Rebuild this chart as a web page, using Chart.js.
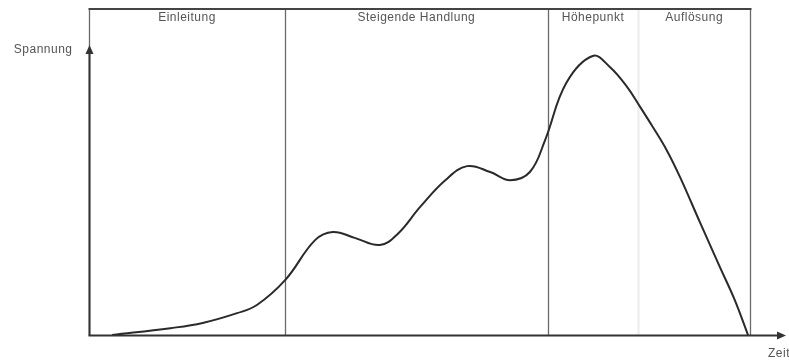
<!DOCTYPE html>
<html>
<head>
<meta charset="utf-8">
<script src="https://cdn.jsdelivr.net/npm/chart.js@4"></script>
<style>
html,body{margin:0;padding:0;background:#fff;}
#wrap{width:789px;height:361px;position:relative;}
</style>
</head>
<body>
<div id="wrap"><canvas id="c" width="789" height="361"></canvas></div>
<script>
// Time (0..100) and tension (0..100)
const timeValues    = [3.5, 12.3, 17.2, 22.4, 25.4, 29.7, 34.2, 36.9, 40.2, 44.0, 46.7, 50.1, 53.9, 57.2, 60.7, 63.7, 66.7, 69.0, 72.2, 76.2, 78.8, 81.4, 83.4, 85.3, 87.4, 89.4, 92.4, 95.5, 97.7, 99.7];
const tensionValues = [0.0, 2.1, 3.7, 6.7, 9.2, 16.9, 29.1, 31.6, 29.8, 27.6, 31.0, 39.3, 47.5, 51.8, 50.0, 47.5, 50.0, 59.8, 77.3, 85.6, 82.2, 76.1, 69.9, 63.8, 56.7, 48.5, 34.7, 20.6, 10.7, 0.0];
const sectionBounds = [0, 29.65, 69.4, 83.1, 100];
const sectionLabels = ["Einleitung", "Steigende Handlung", "Höhepunkt", "Auflösung"];
const yAxisTitle = "Spannung";
const xAxisTitle = "Zeit";

const points = timeValues.map((x, i) => ({x: x, y: tensionValues[i]}));
const FONT = '12px "Liberation Sans", Arial, sans-serif';

const decor = {
  id: 'decor',
  beforeDatasetsDraw(chart) {
    const {ctx, chartArea: a, scales: {x, y}} = chart;
    ctx.save();
    for (let i = 1; i < sectionBounds.length - 1; i++) {
      const px = Math.round(x.getPixelForValue(sectionBounds[i])) + 0.5;
      ctx.beginPath();
      ctx.strokeStyle = i === 3 ? '#ececec' : '#6a6a6a';
      ctx.lineWidth = i === 3 ? 2 : 1.3;
      ctx.moveTo(px, a.top); ctx.lineTo(px, a.bottom);
      ctx.stroke();
    }
    const rx = Math.round(x.getPixelForValue(sectionBounds[sectionBounds.length - 1])) + 0.5;
    ctx.beginPath(); ctx.strokeStyle = '#6a6a6a'; ctx.lineWidth = 1.3;
    ctx.moveTo(rx, a.top); ctx.lineTo(rx, a.bottom); ctx.stroke();
    const lx = Math.round(x.getPixelForValue(0)) + 0.5;
    ctx.beginPath(); ctx.moveTo(lx, a.top); ctx.lineTo(lx, a.bottom); ctx.stroke();
    ctx.beginPath(); ctx.strokeStyle = '#444'; ctx.lineWidth = 2;
    ctx.moveTo(lx - 1, a.top); ctx.lineTo(rx + 1, a.top); ctx.stroke();
    ctx.fillStyle = '#555';
    ctx.font = FONT;
    if ('letterSpacing' in ctx) ctx.letterSpacing = '0.5px';
    ctx.textAlign = 'center'; ctx.textBaseline = 'middle';
    for (let i = 0; i < sectionLabels.length; i++) {
      const cx = (x.getPixelForValue(sectionBounds[i]) + x.getPixelForValue(sectionBounds[i + 1])) / 2;
      ctx.fillText(sectionLabels[i], cx, a.top + 9);
    }
    const by = Math.round(y.getPixelForValue(0)) + 0.5;
    ctx.strokeStyle = '#333'; ctx.fillStyle = '#333'; ctx.lineWidth = 2;
    const arrowTop = a.top + 36;
    ctx.beginPath(); ctx.moveTo(lx, by); ctx.lineTo(lx, arrowTop + 6); ctx.stroke();
    ctx.beginPath(); ctx.moveTo(lx, arrowTop); ctx.lineTo(lx - 4, arrowTop + 9); ctx.lineTo(lx + 4, arrowTop + 9); ctx.closePath(); ctx.fill();
    const arrowRight = a.right + 36;
    ctx.beginPath(); ctx.moveTo(lx - 1, by); ctx.lineTo(arrowRight - 6, by); ctx.stroke();
    ctx.beginPath(); ctx.moveTo(arrowRight, by); ctx.lineTo(arrowRight - 9, by - 4); ctx.lineTo(arrowRight - 9, by + 4); ctx.closePath(); ctx.fill();
    ctx.fillStyle = '#555';
    ctx.font = FONT;
    ctx.textAlign = 'right'; ctx.textBaseline = 'middle';
    ctx.fillText(yAxisTitle, lx - 17, arrowTop + 5);
    ctx.textAlign = 'left';
    ctx.fillText(xAxisTitle, arrowRight - 18, by + 18);
    ctx.restore();
  }
};

new Chart(document.getElementById('c'), {
  type: 'scatter',
  data: {
    datasets: [{
      data: points,
      showLine: true,
      borderColor: '#2a2a2a',
      borderWidth: 2,
      pointRadius: 0,
      tension: 0.4,
      fill: false
    }]
  },
  options: {
    responsive: false,
    animation: false,
    layout: {padding: {left: 89, right: 39, top: 9, bottom: 26}},
    plugins: {legend: {display: false}, tooltip: {enabled: false}},
    scales: {
      x: {type: 'linear', min: 0, max: 100, display: false},
      y: {type: 'linear', min: 0, max: 100, display: false}
    }
  },
  plugins: [decor]
});
</script>
</body>
</html>
